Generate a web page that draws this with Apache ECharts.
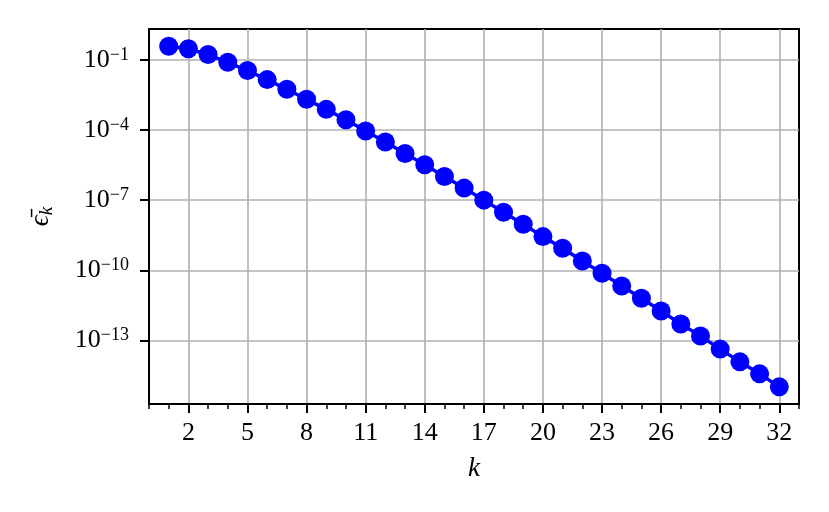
<!DOCTYPE html>
<html>
<head>
<meta charset="utf-8">
<script src="https://cdn.jsdelivr.net/npm/echarts@6/dist/echarts.min.js"></script>
<style>html,body{margin:0;padding:0;background:#fff}#c{width:829px;height:512px}</style>
</head>
<body>
<div id="c"></div>
<script>
// Data
const kValues = [1,2,3,4,5,6,7,8,9,10,11,12,13,14,15,16,17,18,19,20,21,22,23,24,25,26,27,28,29,30,31,32];
const errValues = [0.383, 0.296, 0.169, 0.0789, 0.0348, 0.0143, 0.0055, 2.05e-3, 7.63e-4, 2.76e-4,
  9.06e-5, 3.06e-5, 9.93e-6, 3.26e-6, 1.03e-6, 3.27e-7, 1.0e-7, 3.06e-8, 9.36e-9, 2.75e-9,
  8.77e-10, 2.51e-10, 7.43e-11, 2.12e-11, 6.31e-12, 1.80e-12, 5.01e-13, 1.53e-13, 4.24e-14, 1.21e-14,
  3.71e-15, 1.03e-15];
const xTickValues = [2,5,8,11,14,17,20,23,26,29,32];
const yTickExponents = [-1,-4,-7,-10,-13];
const yTickValues = yTickExponents.map(e => Math.pow(10, e));

const FONT = 'Liberation Serif';
const chart = echarts.init(document.getElementById('c'), null, {renderer: 'canvas'});
chart.setOption({
  animation: false,
  backgroundColor: '#ffffff',
  grid: {left: 149, top: 29, width: 650, height: 375, show: true, borderColor: '#000', borderWidth: 2, backgroundColor: 'transparent'},
  xAxis: [{
    type: 'value', min: 0, max: 33, position: 'bottom',
    name: 'k', nameLocation: 'middle', nameGap: 51,
    nameTextStyle: {fontFamily: FONT, fontStyle: 'italic', fontSize: 27, color: '#000'},
    axisLine: {show: true, lineStyle: {color: '#000', width: 2}},
    axisTick: {show: true, length: 9, lineStyle: {color: '#000', width: 2}, customValues: xTickValues},
    axisLabel: {show: true, customValues: xTickValues, margin: 16, fontFamily: FONT, fontSize: 26, color: '#000'},
    splitLine: {show: true, lineStyle: {color: '#b0b0b0', width: 1.6}}
  }, {
    type: 'value', min: 0, max: 33, interval: 1, position: 'bottom',
    axisLine: {show: false},
    axisTick: {show: true, length: 5, lineStyle: {color: '#000', width: 1.5}},
    axisLabel: {show: false},
    splitLine: {show: false}
  }],
  yAxis: [{
    type: 'log', logBase: 10, min: Math.pow(10, -15.72), max: Math.pow(10, 0.32),
    name: '{e|ϵ̄}{s|k}', nameLocation: 'middle', nameGap: 93, nameRotate: 90,
    nameTextStyle: {
      rich: {
        e: {fontFamily: FONT, fontStyle: 'italic', fontSize: 27, color: '#000', lineHeight: 30},
        s: {fontFamily: FONT, fontStyle: 'italic', fontSize: 19, color: '#000', verticalAlign: 'bottom', lineHeight: 24}
      }
    },
    axisLine: {show: true, lineStyle: {color: '#000', width: 2}},
    axisTick: {show: true, length: 9, lineStyle: {color: '#000', width: 2}, customValues: yTickValues},
    axisLabel: {
      show: true, customValues: yTickValues, margin: 20,
      formatter: function (v) {
        const e = Math.round(Math.log10(v));
        return '{b|10}{s|' + (e < 0 ? '\u2212' : '') + Math.abs(e) + '}';
      },
      rich: {
        b: {fontFamily: FONT, fontSize: 26, color: '#000', lineHeight: 28},
        s: {fontFamily: FONT, fontSize: 18, color: '#000', verticalAlign: 'top', lineHeight: 19}
      }
    },
    splitLine: {show: true, lineStyle: {color: '#b0b0b0', width: 1.6}},
    minorTick: {show: false}
  }],
  series: [{
    type: 'line',
    xAxisIndex: 0, yAxisIndex: 0,
    data: kValues.map((k, i) => [k, errValues[i]]),
    symbol: 'circle', symbolSize: 19,
    itemStyle: {color: '#0000ff'},
    lineStyle: {color: '#0000ff', width: 3.5},
    z: 5
  }]
});
</script>
</body>
</html>
